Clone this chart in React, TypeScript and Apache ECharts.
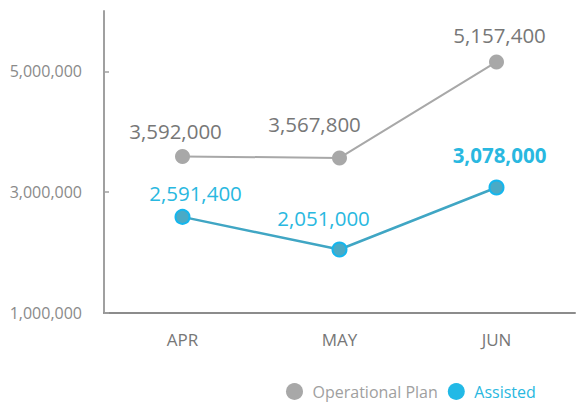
import React, { useEffect, useRef } from "react";
import * as echarts from "echarts";

const categories = ["APR", "MAY", "JUN"];
const operationalPlan = [3592000, 3567800, 5157400];
const assisted = [2591400, 2051000, 3078000];
const yTicks = [1000000, 3000000, 5000000];

// label placement (px, relative to the point) as in the reference
const opLabelOffsets = [[-7, -25], [-25, -34], [3, -27]];
const asLabelOffsets = [[13, -24], [-16, -32], [3, -32]];

const fmt = (v: number) => v.toLocaleString("en-US");

export default function App() {
  const ref = useRef<HTMLDivElement>(null);
  useEffect(() => {
    if (!ref.current) return;
    const chart = echarts.init(ref.current, null, { renderer: "svg" });
    const font = "'Open Sans', sans-serif";
    chart.setOption({
      animation: false,
      textStyle: { fontFamily: font },
      grid: { left: 104, top: 11, right: 3, bottom: 90, containLabel: false },
      legend: {
        top: 383,
        left: 286,
        padding: 0,
        icon: "circle",
        itemWidth: 26,
        itemHeight: 17,
        itemGap: 10,
        textStyle: { fontSize: 16, lineHeight: 16, fontFamily: font, color: "#a0a0a0" },
        data: [
          {
            name: "Operational Plan",
            itemStyle: { color: "#a8a8a8", borderWidth: 0 },
            textStyle: { color: "#a0a0a0" },
          },
          {
            name: "Assisted",
            itemStyle: { color: "#22b9e6", borderWidth: 0 },
            textStyle: { color: "#29b8e0" },
          },
        ],
      },
      xAxis: {
        type: "category",
        data: categories,
        boundaryGap: true,
        axisLine: { lineStyle: { color: "#8c8c8c", width: 2 } },
        axisTick: { inside: true, length: 5, lineStyle: { color: "#8c8c8c", width: 1.5 } },
        axisLabel: { color: "#777", fontSize: 17, margin: 18, fontFamily: font },
      },
      yAxis: {
        type: "value",
        min: 1000000,
        max: 6000000,
        interval: 2000000,
        axisLine: { show: true, lineStyle: { color: "#a0a0a0", width: 2 } },
        axisTick: {
          show: true,
          inside: true,
          length: 5,
          customValues: yTicks,
          lineStyle: { color: "#a0a0a0", width: 1.5 },
        },
        splitLine: { show: false },
        axisLabel: {
          customValues: yTicks,
          color: "#8a8a8a",
          fontSize: 16,
          margin: 22,
          fontFamily: font,
          formatter: (v: number) => fmt(v),
        },
      },
      series: [
        {
          name: "Operational Plan",
          type: "line",
          data: operationalPlan.map((v, i) => ({
            value: v,
            label: { offset: opLabelOffsets[i] },
          })),
          symbol: "circle",
          symbolSize: 15,
          itemStyle: { color: "#a8a8a8" },
          lineStyle: { color: "#a8a8a8", width: 2 },
          label: {
            show: true,
            position: "inside",
            color: "#777",
            fontSize: 20.5,
            fontFamily: font,
            formatter: (p: any) => fmt(p.value),
          },
        },
        {
          name: "Assisted",
          type: "line",
          data: assisted.map((v, i) => ({
            value: v,
            label:
              i === assisted.length - 1
                ? { offset: asLabelOffsets[i], fontWeight: "bold" }
                : { offset: asLabelOffsets[i] },
          })),
          symbol: "circle",
          symbolSize: 14,
          itemStyle: { color: "#4aaac6", borderColor: "#14b6ee", borderWidth: 2 },
          lineStyle: { color: "#40a6c4", width: 2.5 },
          label: {
            show: true,
            position: "inside",
            color: "#29b8e0",
            fontSize: 20.5,
            fontFamily: font,
            formatter: (p: any) => fmt(p.value),
          },
        },
      ],
    });
    return () => chart.dispose();
  }, []);
  return <div ref={ref} style={{ width: 578, height: 403, position: "absolute", left: 0, top: 0 }} />;
}
